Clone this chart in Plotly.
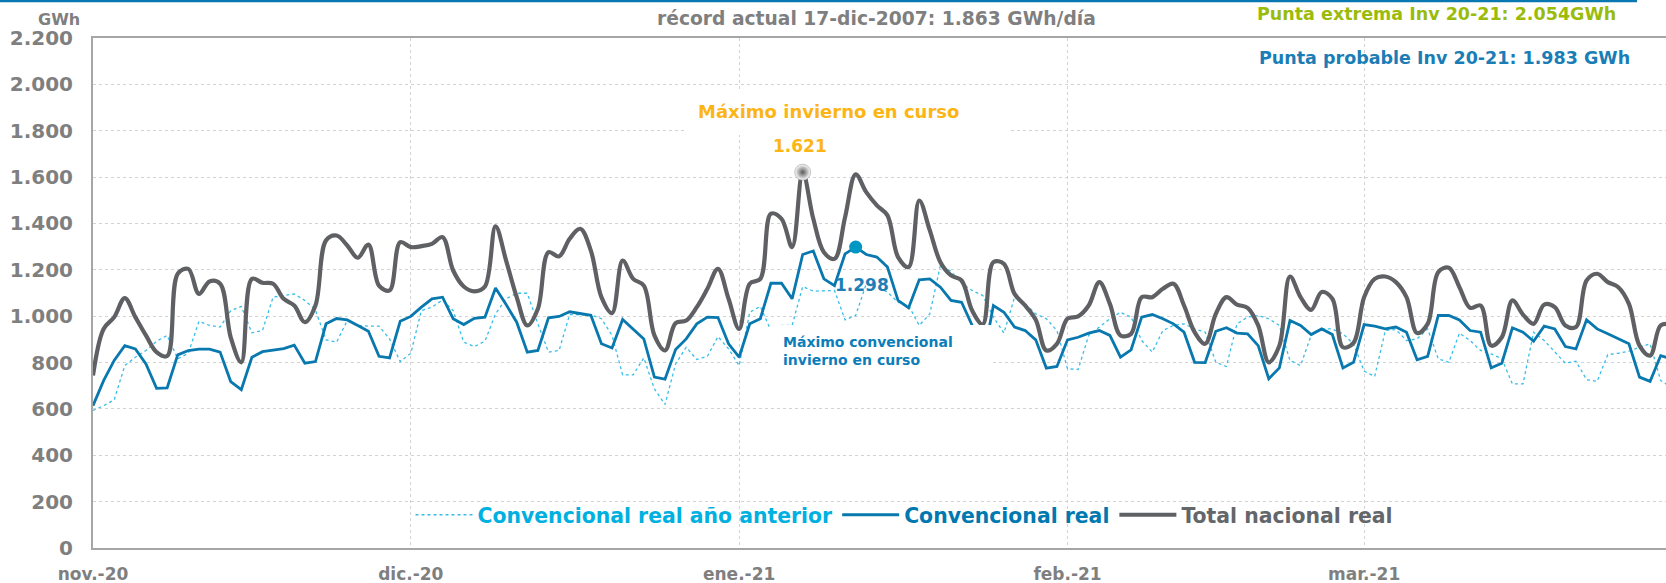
import pandas as pd
import plotly.graph_objects as go

start_date = "2020-11-01"
n_days = 150

total_real = [
    744, 945, 996, 1078, 996, 917, 845, 828, 1183, 1204, 1096, 1150, 1140, 909, 801, 1161, 1144, 1140, 1075, 1046,
    974, 1046, 1327, 1348, 1305, 1252, 1309, 1132, 1111, 1319,
    1298, 1302, 1312, 1341, 1197, 1128, 1107, 1128, 1387, 1240, 1082, 960, 1032, 1276, 1258, 1334, 1377, 1283, 1082,
    1013, 1240, 1161, 1132, 917, 852, 970, 981, 1039, 1118, 1204, 1075,
    945, 1140, 1161, 1442, 1420, 1298, 1621, 1420, 1276, 1247, 1427, 1612, 1535, 1478, 1435, 1255, 1212, 1499, 1370,
    1233, 1176, 1154, 1024, 965, 1233, 1226, 1096, 1046, 985, 852, 881,
    989, 999, 1046, 1147, 1053, 917, 924, 1082, 1082, 1118, 1140, 1046, 931, 881, 1010, 1082, 1050, 1036, 960, 801,
    873, 1171, 1082, 1027, 1104, 1075, 866, 885,
    1082, 1161, 1171, 1147, 1082, 927, 967, 1190, 1209, 1125, 1036, 1046, 873, 909, 1068, 1007, 967, 1050, 1039, 960,
    953, 1154, 1183, 1147, 1125, 1053, 873, 830, 960, 965,
]

conv_real = [
    614, 722, 809, 873, 859, 794, 689, 691, 833, 852, 858, 858, 845, 718, 683, 823, 847, 852, 860, 875,
    797, 804, 967, 990, 984, 960, 935, 827, 820, 978,
    999, 1039, 1075, 1082, 989, 964, 991, 996, 1122, 1050, 974, 845, 852, 993, 999, 1019, 1013, 1004, 881, 863,
    986, 945, 902, 737, 728, 856, 902, 967, 996, 994, 881,
    823, 967, 989, 1142, 1142, 1075, 1266, 1281, 1161, 1132, 1269, 1298, 1266, 1255, 1212, 1068, 1036, 1157, 1161,
    1125, 1068, 1060, 960, 800, 1046, 1017, 953, 938, 898, 776, 783,
    898, 909, 927, 938, 917, 823, 855, 996, 1007, 989, 967, 931, 801, 800, 935, 950, 927, 924, 873, 730,
    777, 981, 960, 921, 945, 921, 777, 801,
    964, 957, 945, 953, 931, 812, 827, 1003, 1003, 984, 938, 931, 777, 797, 950, 931, 892, 957, 945, 869,
    859, 984, 945, 924, 902, 881, 737, 719, 830, 816,
]

conv_prev = [
    593, 614, 639, 787, 823, 852, 892, 917, 816, 840, 978, 960, 953, 1024, 1042, 928, 938, 1082, 1089, 1096,
    1068, 1027, 898, 888, 981, 960, 957, 957, 902, 804,
    840, 1024, 1039, 1070, 1024, 888, 869, 892, 1010, 1075, 1099, 1099, 967, 845, 852, 1007, 1006, 1006, 989, 917,
    747, 747, 820, 686, 619, 794, 866, 813, 827, 912, 859,
    787, 1017, 1042, 938, 960, 960, 1128, 1108, 1108, 1111, 984, 1003, 1140, 1125, 1104, 1060, 1046, 960, 1010,
    1219, 1194, 1142, 1111, 1089, 996, 927, 1082, 1053, 1010, 989, 938,
    773, 770, 917, 953, 989, 1017, 996, 895, 845, 938, 960, 967, 945, 931, 801, 783, 967, 996, 1003, 989,
    960, 809, 787, 917, 945, 945, 924, 880,
    763, 740, 938, 942, 895, 902, 945, 816, 801, 927, 895, 852, 837, 816, 708, 708, 931, 895, 845, 797,
    806, 726, 719, 834, 840, 849, 866, 881, 722, 694,
]

series_names = ["Convencional real año anterior", "Convencional real", "Total nacional real"]
month_ticks = ["2020-11-01", "2020-12-01", "2021-01-01", "2021-02-01", "2021-03-01"]
month_labels = ["nov.-20", "dic.-20", "ene.-21", "feb.-21", "mar.-21"]
y_ticks = list(range(0, 2201, 200))

dates = pd.date_range(start_date, periods=n_days, freq="D")

C_PREV = "#38BEE9"
C_CONV = "#0878AE"
C_TOTAL = "#5E6064"
GRAY_TXT = "#7F7F7F"
FONT = "DejaVu Sans"

fig = go.Figure()
fig.add_trace(go.Scatter(
    x=dates, y=conv_prev, mode="lines",
    name="<span style='color:#00B0E0'>" + series_names[0] + "</span>",
    line=dict(color=C_PREV, width=1.3, dash="dot"),
))
fig.add_trace(go.Scatter(
    x=dates, y=conv_real, mode="lines",
    name="<span style='color:#0078B0'>" + series_names[1] + "</span>",
    line=dict(color=C_CONV, width=2.8),
))
fig.add_trace(go.Scatter(
    x=dates, y=total_real, mode="lines",
    name="<span style='color:#63666A'>" + series_names[2] + "</span>",
    line=dict(color=C_TOTAL, width=4.2, shape="spline", smoothing=1.0),
))

# maxima markers
i_tot = max(range(n_days), key=lambda i: total_real[i])
i_conv = max(range(n_days), key=lambda i: conv_real[i])
fig.add_trace(go.Scatter(
    x=[dates[i_tot]], y=[total_real[i_tot]], mode="markers", showlegend=False,
    marker=dict(size=16, color="#FFFFFF", gradient=dict(type="radial", color="#5A5A5A"),
                line=dict(width=0.5, color="#888888")),
))
fig.add_trace(go.Scatter(
    x=[dates[i_conv]], y=[conv_real[i_conv]], mode="markers", showlegend=False,
    marker=dict(size=13, color="#0097C4", line=dict(width=0)),
))

ML, MR, MT, MB = 93, 0, 38, 35
W, H = 1666, 583
PW, PH = W - ML - MR, H - MT - MB


def px(x):
    return (x - ML) / PW


def py(y):
    return (H - MB - y) / PH


shapes = [
    # top thin blue band
    dict(type="line", xref="paper", yref="paper", x0=px(0), x1=px(1637), y0=py(1.2), y1=py(1.2),
         line=dict(color="#0A78B0", width=2.2)),
    # white boxes behind annotations
    dict(type="rect", xref="paper", yref="paper", x0=px(685), x1=px(1009), y0=py(135), y1=py(90),
         fillcolor="white", line=dict(width=0), layer="above"),
    dict(type="rect", xref="paper", yref="paper", x0=px(770), x1=px(993), y0=py(385), y1=py(325),
         fillcolor="white", line=dict(width=0), layer="above"),
]

annotations = [
    dict(text="GWh", x=px(59), y=py(19.5), font=dict(size=16, color=GRAY_TXT)),
    dict(text="récord actual 17-dic-2007: 1.863 GWh/día", x=px(876), y=py(19), font=dict(size=18.7, color=GRAY_TXT)),
    dict(text="Punta extrema Inv 20-21: 2.054GWh", x=px(1436), y=py(14), font=dict(size=17.5, color="#9BBB0B")),
    dict(text="Punta probable Inv 20-21: 1.983 GWh", x=px(1444), y=py(58), font=dict(size=17.5, color="#1B7DB5")),
    dict(text="Máximo invierno en curso", x=px(828), y=py(111), font=dict(size=18, color="#FDB515")),
    dict(text=f"{total_real[i_tot] / 1000:.3f}", x=px(800), y=py(146), font=dict(size=17, color="#FDB515")),
    dict(text=f"{conv_real[i_conv] / 1000:.3f}", x=px(862), y=py(285), font=dict(size=17, color="#1E7FB8")),
    dict(text="Máximo convencional<br>invierno en curso", x=px(781), y=py(351), xanchor="left", align="left",
         font=dict(size=14, color="#0A7DBA")),
]
for a in annotations:
    a.setdefault("xref", "paper")
    a.setdefault("yref", "paper")
    a.setdefault("showarrow", False)
    a.setdefault("xanchor", "center")
    a.setdefault("yanchor", "middle")
    a["font"]["family"] = FONT
    a["font"]["weight"] = "bold"

fig.update_layout(
    width=W, height=H,
    margin=dict(l=ML, r=MR, t=MT, b=MB, autoexpand=False),
    paper_bgcolor="white", plot_bgcolor="white",
    separators=",.",
    font=dict(family=FONT, weight="bold", color=GRAY_TXT),
    shapes=shapes,
    annotations=annotations,
    showlegend=True,
    legend=dict(orientation="h", x=px(410.5), y=py(515), xanchor="left", yanchor="middle",
                bgcolor="rgba(0,0,0,0)", font=dict(size=20.4, family=FONT, weight="bold"),
                itemwidth=57, tracegroupgap=0, itemclick=False),
    xaxis=dict(
        type="date", range=["2020-11-01", "2021-03-29 12:00"],
        tickvals=month_ticks, ticktext=month_labels,
        showgrid=True, gridcolor="#D3D3D3", griddash="dot", gridwidth=1,
        showline=True, linecolor="#A6A6A6", linewidth=2, mirror=True,
        ticks="", tickfont=dict(size=17, color=GRAY_TXT, family=FONT, weight="bold"),
        ticklabelstandoff=10, zeroline=False,
    ),
    yaxis=dict(
        range=[0, 2200], tickvals=y_ticks, tickformat=",d",
        showgrid=True, gridcolor="#D3D3D3", griddash="dot", gridwidth=1,
        showline=True, linecolor="#A6A6A6", linewidth=2,
        ticks="", tickfont=dict(size=20, color=GRAY_TXT, family=FONT, weight="bold"),
        ticklabelstandoff=14, zeroline=False,
    ),
)

fig.write_html("out.html", config={"displayModeBar": False},
               post_script="document.body.style.margin='0px';")
